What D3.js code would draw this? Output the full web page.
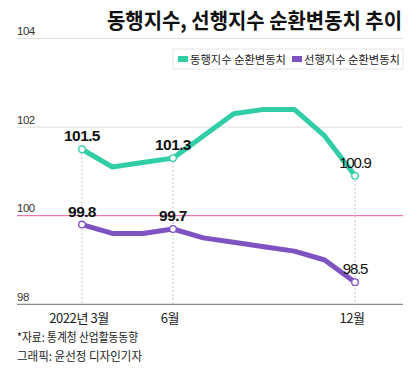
<!DOCTYPE html>
<html><head><meta charset="utf-8">
<script src="https://cdn.jsdelivr.net/npm/d3@7"></script>
<style>
html,body{margin:0;padding:0;background:#fff;}
svg{display:block;}
</style></head>
<body>
<svg id="chart" width="420" height="374"></svg>
<script>
const months = [3,4,5,6,7,8,9,10,11,12];
const coincident = [101.5,101.1,101.2,101.3,101.8,102.3,102.4,102.4,101.8,100.9];
const leading = [99.8,99.6,99.6,99.7,99.5,99.4,99.3,99.2,99.0,98.5];
const yTicks = [98,100,102,104];
const xTickMonths = [3,6,12];
const xTickLabels = ["2022년 3월","6월","12월"];
const labelMonths = [3,6,12];
const seriesNames = ["동행지수 순환변동치","선행지수 순환변동치"];
const colors = ["#30cda7","#7e52c0"];
const title = "동행지수, 선행지수 순환변동치 추이";
const sources = ["*자료: 통계청 산업활동동향","그래픽: 윤선정 디자인기자"];

const KR = "'Noto Sans CJK KR','Noto Sans',sans-serif";
const NUM = "'Liberation Sans',Arial,sans-serif";

const svg = d3.select("#chart");
const left = 17, right = 403;
const x = d3.scaleLinear().domain([3,12]).range([82,355]);
const y = d3.scaleLinear().domain([98,104]).range([304.3,38.5]);

// gridlines and y tick labels
yTicks.forEach(t=>{
  svg.append("line").attr("x1",left).attr("x2",right).attr("y1",y(t)).attr("y2",y(t))
    .attr("stroke", t===100 ? "#e2579f" : (t===98 ? "#8a8a8a" : "#dedede"))
    .attr("stroke-width", t===98 ? 1.2 : 1);
  svg.append("text").attr("x",left).attr("y",y(t)-3.5).text(t)
    .attr("font-family",NUM).attr("font-size",11.5).attr("fill","#333").attr("letter-spacing",-0.5);
});

// dashed verticals
labelMonths.forEach(m=>{
  const i = months.indexOf(m);
  svg.append("line").attr("x1",x(m)).attr("x2",x(m)).attr("y1",y(coincident[i])).attr("y2",y(98))
    .attr("stroke","#c4c4c4").attr("stroke-width",1).attr("stroke-dasharray","2,2");
});

// lines
const line = d3.line().x((d,i)=>x(months[i])).y(d=>y(d));
[coincident, leading].forEach((s,k)=>{
  svg.append("path").datum(s).attr("d",line).attr("fill","none")
    .attr("stroke",colors[k]).attr("stroke-width",5).attr("stroke-linejoin","round").attr("stroke-linecap","butt");
});

// markers and labels
[coincident, leading].forEach((s,k)=>{
  labelMonths.forEach((m,j)=>{
    const i = months.indexOf(m);
    svg.append("circle").attr("cx",x(m)).attr("cy",y(s[i])).attr("r",3.3)
      .attr("fill","#fff").attr("stroke",colors[k]).attr("stroke-width",1.3);
    const last = j===labelMonths.length-1;
    svg.append("text").attr("x",x(m)).attr("y",y(s[i])-8).attr("text-anchor","middle")
      .text(d3.format(".1f")(s[i]))
      .attr("font-family",NUM).attr("font-size",last?15:15.5).attr("font-weight",last?"normal":"bold")
      .attr("letter-spacing",last?-1.2:-0.6).attr("fill","#111");
  });
});

// x labels
xTickMonths.forEach((m,i)=>{
  svg.append("text").attr("x",x(m)-3).attr("y",323).attr("text-anchor","middle").text(xTickLabels[i])
    .attr("font-family",KR).attr("font-size",13).attr("fill","#222").attr("letter-spacing",-0.4);
});

// title
svg.append("text").attr("x",402).attr("y",28).attr("text-anchor","end").text(title)
  .attr("font-family",KR).attr("font-size",21).attr("font-weight","bold").attr("fill","#111")
  .attr("textLength",295).attr("lengthAdjust","spacingAndGlyphs");

// legend
svg.append("rect").attr("x",173).attr("y",49).attr("width",230).attr("height",20)
  .attr("fill","#fff").attr("stroke","#e6e6e6").attr("stroke-width",1);
const legX = [178,292];
seriesNames.forEach((n,k)=>{
  svg.append("rect").attr("x",legX[k]).attr("y",56).attr("width",10).attr("height",6).attr("fill",colors[k]);
  svg.append("text").attr("x",legX[k]+12).attr("y",63.5).text(n)
    .attr("font-family",KR).attr("font-size",11.5).attr("fill","#222")
    .attr("textLength",96).attr("lengthAdjust","spacingAndGlyphs");
});

// sources
sources.forEach((s,i)=>{
  svg.append("text").attr("x",left).attr("y",342+i*19).text(s)
    .attr("font-family",KR).attr("font-size",12).attr("fill","#222")
    .attr("textLength", i===0?121:125).attr("lengthAdjust","spacingAndGlyphs");
});
</script>
</body></html>
